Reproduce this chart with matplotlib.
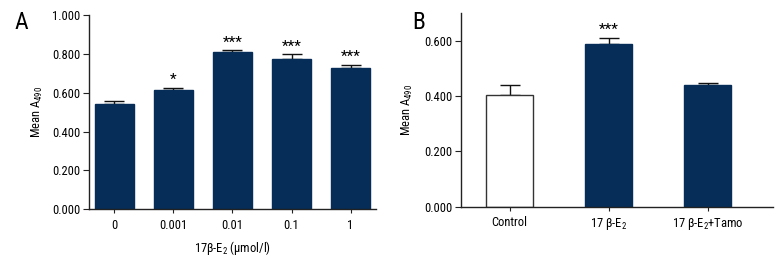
import matplotlib
matplotlib.use("Agg")
import matplotlib.pyplot as plt
from matplotlib import font_manager

names = sorted({f.name for f in font_manager.fontManager.ttflist})
FONT = None
for pref in ["Roboto Condensed", "Open Sans Condensed", "Liberation Sans Narrow",
             "Noto Sans Condensed", "DejaVu Sans Condensed"]:
    if pref in names:
        FONT = pref
        break
if FONT is None:
    cands = [n for n in names if "Condensed" in n or "Narrow" in n]
    FONT = cands[0] if cands else "Liberation Sans"
plt.rcParams['font.family'] = [FONT, 'DejaVu Sans']
plt.rcParams['mathtext.fontset'] = 'custom'
plt.rcParams['mathtext.rm'] = FONT

# Panel A data
a_cats = ["0", "0.001", "0.01", "0.1", "1"]
a_vals = [0.542, 0.613, 0.809, 0.776, 0.731]
a_errs = [0.016, 0.013, 0.012, 0.023, 0.014]
a_sig = ["", "*", "***", "***", "***"]
a_yticks = [0.0, 0.2, 0.4, 0.6, 0.8, 1.0]

# Panel B data
b_cats = ["Control", "17 β-E$_2$", "17 β-E$_2$+Tamo"]
b_vals = [0.406, 0.590, 0.440]
b_errs = [0.033, 0.021, 0.009]
b_sig = ["", "***", ""]
b_yticks = [0.0, 0.2, 0.4, 0.6]

NAVY = "#052d58"
FS = 9

fig = plt.figure(figsize=(7.8, 2.64), dpi=100)
axA = fig.add_axes([0.1141, 0.2083, 0.482 - 0.1141, 0.9413 - 0.2083])
axB = fig.add_axes([0.591, 0.217, 0.991 - 0.591, 0.9495 - 0.217])

def style(ax):
    for s in ["top", "right"]:
        ax.spines[s].set_visible(False)
    for s in ["left", "bottom"]:
        ax.spines[s].set_linewidth(1.0)
        ax.spines[s].set_color("#222222")
    ax.tick_params(axis="both", labelsize=FS, length=3, width=0.8, color="#222222")
    ax.tick_params(axis="y", length=4, pad=2)
    ax.tick_params(axis="x", pad=4)

# Panel A
xa = list(range(len(a_cats)))
axA.bar(xa, a_vals, width=0.67, color=NAVY, edgecolor=NAVY, zorder=2)
axA.errorbar(xa, a_vals, yerr=[[0]*len(a_errs), a_errs], fmt="none",
             ecolor="#111111", elinewidth=1, capsize=7, capthick=1, zorder=1)
for x, v, e, s in zip(xa, a_vals, a_errs, a_sig):
    if s:
        axA.text(x, v + e + 0.004, s, ha="center", va="bottom", fontsize=FS + 2)
axA.set_xlim(-0.43, 4.43)
axA.set_ylim(0, 1.0)
axA.set_yticks(a_yticks)
axA.set_yticklabels([f"{t:.3f}" for t in a_yticks])
axA.set_xticks(xa)
axA.set_xticklabels(a_cats)
axA.set_ylabel("Mean A$_{490}$", fontsize=FS, labelpad=5)
axA.set_xlabel("17β-E$_2$ (μmol/l)", fontsize=FS, labelpad=5)
style(axA)
fig.text(0.018, 0.915, "A", fontsize=17, ha="left", va="center")

# Panel B
xb = list(range(len(b_cats)))
colors = ["white", NAVY, NAVY]
edges = ["#333333", NAVY, NAVY]
axB.bar(xb, b_vals, width=0.48, color=colors, edgecolor=edges, linewidth=1, zorder=2)
axB.errorbar(xb, b_vals, yerr=[[0]*len(b_errs), b_errs], fmt="none",
             ecolor="#111111", elinewidth=1, capsize=7.5, capthick=1, zorder=1)
for x, v, e, s in zip(xb, b_vals, b_errs, b_sig):
    if s:
        axB.text(x, v + e + 0.004, s, ha="center", va="bottom", fontsize=FS + 2)
axB.set_xlim(-0.49, 2.66)
axB.set_ylim(0, 0.7)
axB.set_yticks(b_yticks)
axB.set_yticklabels([f"{t:.3f}" for t in b_yticks])
axB.set_xticks(xb)
axB.set_xticklabels(b_cats)
axB.set_ylabel("Mean A$_{490}$", fontsize=FS, labelpad=7)
style(axB)
fig.text(0.528, 0.915, "B", fontsize=17, ha="left", va="center")

fig.savefig("out.png", dpi=100)
